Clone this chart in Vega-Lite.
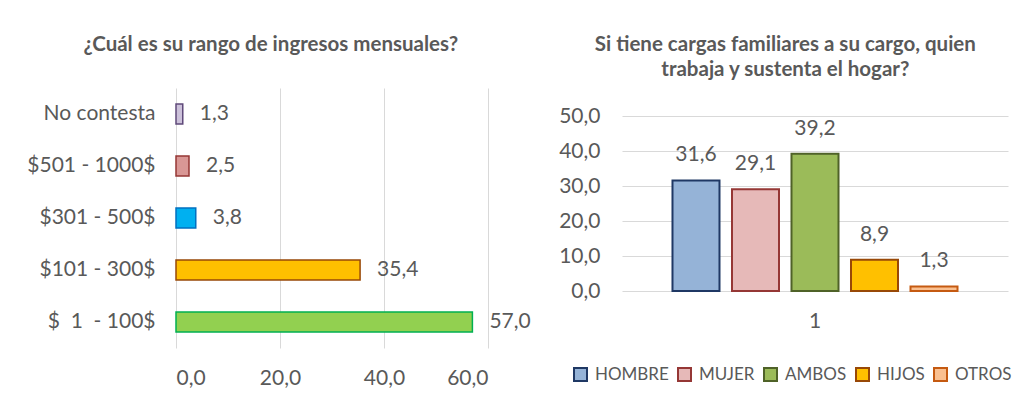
{
  "$schema": "https://vega.github.io/schema/vega-lite/v6.json",
  "background": "white",
  "padding": {"left": 26, "top": 34, "right": 5, "bottom": 5},
  "spacing": 27,
  "resolve": {"scale": {"fill": "independent", "stroke": "independent", "x": "independent", "y": "independent"}, "legend": {"fill": "independent", "stroke": "independent"}},
  "config": {
    "font": "Lato",
    "locale": {"number": {"decimal": ",", "thousands": ".", "grouping": [3], "currency": ["$", ""]}},
    "view": {"stroke": null},
    "axis": {"labelFont": "Lato", "labelColor": "#595959", "labelFontSize": 21, "ticks": false, "domain": false, "gridColor": "#d9d9d9", "gridWidth": 1, "title": null},
    "title": {"font": "Lato", "fontSize": 20.5, "fontWeight": "bold", "color": "#595959", "anchor": "middle", "frame": "bounds"}
  },
  "datasets": {
    "ingresos": [
      {"rango": "No contesta", "pct": 1.3},
      {"rango": "$501 - 1000$", "pct": 2.5},
      {"rango": "$301 - 500$", "pct": 3.8},
      {"rango": "$101 - 300$", "pct": 35.4},
      {"rango": "$\u00a0\u00a01\u00a0\u00a0-\u00a0100$", "pct": 57.0}
    ],
    "cargas": [
      {"grupo": "1", "quien": "HOMBRE", "pct": 31.6},
      {"grupo": "1", "quien": "MUJER", "pct": 29.1},
      {"grupo": "1", "quien": "AMBOS", "pct": 39.2},
      {"grupo": "1", "quien": "HIJOS", "pct": 8.9},
      {"grupo": "1", "quien": "OTROS", "pct": 1.3}
    ]
  },
  "hconcat": [
    {
      "width": 312,
      "height": 260,
      "title": {"text": "¿Cuál es su rango de ingresos mensuales?", "offset": 33, "dx": -8},
      "data": {"name": "ingresos"},
      "encoding": {
        "y": {"field": "rango", "type": "nominal", "sort": null, "scale": {"paddingInner": 0.615, "paddingOuter": 0.3075}, "axis": {"labelPadding": 21, "grid": false}},
        "x": {"field": "pct", "type": "quantitative", "scale": {"domain": [0, 60], "nice": false}, "axis": {"values": [0, 20, 40, 60], "format": ".1f", "labelPadding": 19, "grid": true}}
      },
      "layer": [
        {
          "mark": {"type": "bar", "strokeWidth": 1.5},
          "encoding": {
            "fill": {"field": "rango", "type": "nominal", "scale": {"domain": ["No contesta", "$501 - 1000$", "$301 - 500$", "$101 - 300$", "$\u00a0\u00a01\u00a0\u00a0-\u00a0100$"], "range": ["#ccc1da", "#d99795", "#00b0f0", "#ffc000", "#92d050"]}, "legend": null},
            "stroke": {"field": "rango", "type": "nominal", "scale": {"domain": ["No contesta", "$501 - 1000$", "$301 - 500$", "$101 - 300$", "$\u00a0\u00a01\u00a0\u00a0-\u00a0100$"], "range": ["#5f497a", "#953735", "#0070c0", "#984807", "#00b050"]}, "legend": null}
          }
        },
        {
          "mark": {"type": "text", "align": "left", "baseline": "middle", "dx": 17, "fontSize": 21, "color": "#595959"},
          "encoding": {"text": {"field": "pct", "type": "quantitative", "format": ".1f"}}
        }
      ]
    },
    {
      "width": 386,
      "height": 203,
      "title": {"text": ["Si tiene cargas familiares a su cargo, quien", "trabaja y sustenta el hogar?"], "offset": 8, "lineHeight": 25},
      "data": {"name": "cargas"},
      "encoding": {
        "x": {"field": "grupo", "type": "nominal", "scale": {"paddingInner": 0, "paddingOuter": 0.15}, "axis": {"labelAngle": 0, "labelPadding": 19, "grid": false}},
        "xOffset": {"field": "quien", "type": "nominal", "sort": null, "scale": {"paddingInner": 0.21, "paddingOuter": 0.1}},
        "y": {"field": "pct", "type": "quantitative", "scale": {"domain": [0, 58], "nice": false}, "axis": {"values": [0, 10, 20, 30, 40, 50], "format": ".1f", "labelPadding": 22, "grid": true}}
      },
      "layer": [
        {
          "mark": {"type": "bar", "strokeWidth": 2},
          "encoding": {
            "fill": {"field": "quien", "type": "nominal", "scale": {"domain": ["HOMBRE", "MUJER", "AMBOS", "HIJOS", "OTROS"], "range": ["#95b3d7", "#e6b9b8", "#9bbb59", "#ffc000", "#fac090"]},
              "legend": {"orient": "none", "legendX": -50, "legendY": 278, "direction": "horizontal", "title": null, "symbolType": "square", "symbolSize": 169, "symbolStrokeWidth": 2, "labelFontSize": 17, "labelFont": "Lato", "labelColor": "#595959", "labelOffset": 6, "columnPadding": 5}},
            "stroke": {"field": "quien", "type": "nominal", "scale": {"domain": ["HOMBRE", "MUJER", "AMBOS", "HIJOS", "OTROS"], "range": ["#1f3864", "#953735", "#4f6228", "#984807", "#c55a11"]},
              "legend": {"orient": "none", "legendX": -50, "legendY": 278, "direction": "horizontal", "title": null, "symbolType": "square", "symbolSize": 169, "symbolStrokeWidth": 2, "labelFontSize": 17, "labelFont": "Lato", "labelColor": "#595959", "labelOffset": 6, "columnPadding": 5}}
          }
        },
        {
          "mark": {"type": "text", "align": "center", "baseline": "middle", "dy": -25, "fontSize": 21, "color": "#595959"},
          "encoding": {"text": {"field": "pct", "type": "quantitative", "format": ".1f"}}
        }
      ]
    }
  ]
}
